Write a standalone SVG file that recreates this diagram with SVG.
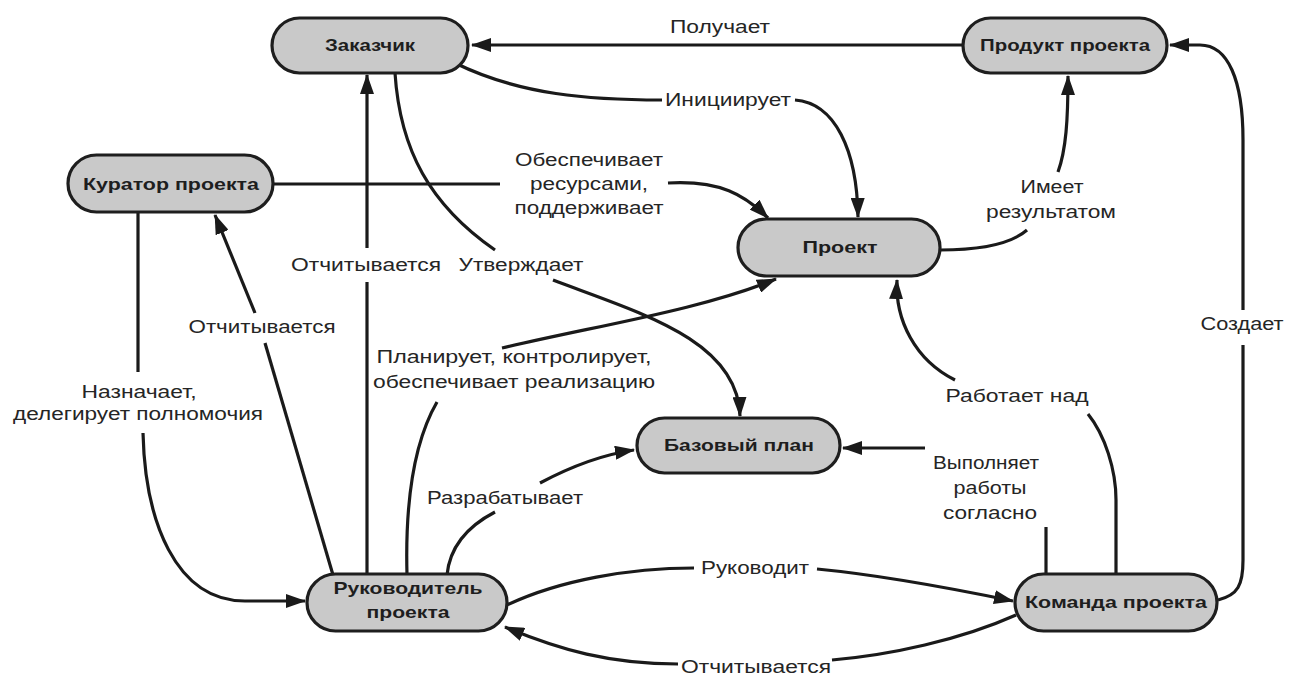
<svg xmlns="http://www.w3.org/2000/svg" width="1289" height="677" viewBox="0 0 1289 677">
<defs>
<marker id="arr" markerUnits="userSpaceOnUse" markerWidth="20" markerHeight="14" refX="19" refY="7" orient="auto">
<path d="M0,0 L20,7 L0,14 z" fill="#1a1a1a"/>
</marker>
</defs>
<style>
.node rect{fill:#c9c9c9;stroke:#1e1e1e;stroke-width:3.2}
.node text{font-family:"Liberation Sans",Arial,sans-serif;font-weight:bold;font-size:16.5px;fill:#1e1e1e;text-anchor:middle}
.edge path{fill:none;stroke:#1a1a1a;stroke-width:3.2}
.lbl{font-family:"Liberation Sans",Arial,sans-serif;font-size:17.5px;fill:#252525;text-anchor:middle}
</style>
<rect width="1289" height="677" fill="#ffffff"/>
<g id="connectors" class="edge">
<path d="M963,45 L472,45" marker-end="url(#arr)"/>
<path d="M455,63 C520,95 590,100 662,100"/>
<path d="M795,100 C835,103 857,150 858,217" marker-end="url(#arr)"/>
<path d="M273,184 L500,184"/>
<path d="M668,183 C720,180 745,195 768,218" marker-end="url(#arr)"/>
<path d="M367,575 L367,282"/>
<path d="M367,248 L367,75" marker-end="url(#arr)"/>
<path d="M395,73 C400,150 430,205 495,250"/>
<path d="M553,280 C640,313 738,340 740,416" marker-end="url(#arr)"/>
<path d="M333,575 L265,343"/>
<path d="M255,313 L215,215" marker-end="url(#arr)"/>
<path d="M138,212 L138,372"/>
<path d="M143,433 C145,520 175,601 245,601 L305,601" marker-end="url(#arr)"/>
<path d="M407,575 C405,500 415,440 437,402"/>
<path d="M502,348 C600,325 700,310 776,279" marker-end="url(#arr)"/>
<path d="M447,575 C450,545 470,525 495,512"/>
<path d="M540,483 C570,467 600,455 634,450" marker-end="url(#arr)"/>
<path d="M1046,573 L1046,527"/>
<path d="M925,448 L843,448" marker-end="url(#arr)"/>
<path d="M1116,573 L1116,500 C1116,470 1105,435 1088,414"/>
<path d="M955,380 C915,360 895,320 897,280" marker-end="url(#arr)"/>
<path d="M940,250 C975,250 1010,245 1027,230"/>
<path d="M1058,172 C1066,150 1068,120 1068,76" marker-end="url(#arr)"/>
<path d="M1218,600 C1238,595 1243,585 1243,560 L1243,345"/>
<path d="M1243,310 L1243,140 C1243,80 1228,45 1200,45 L1170,45" marker-end="url(#arr)"/>
<path d="M507,605 C560,580 630,568 694,568"/>
<path d="M817,569 C880,575 950,588 1013,601" marker-end="url(#arr)"/>
<path d="M1016,615 C960,640 890,655 832,660"/>
<path d="M678,664 C610,664 560,650 505,627" marker-end="url(#arr)"/>
</g>
<g id="labels">
<text class="lbl" x="720" y="33" textLength="100" lengthAdjust="spacingAndGlyphs">Получает</text>
<text class="lbl" x="728" y="106" textLength="126" lengthAdjust="spacingAndGlyphs">Инициирует</text>
<text class="lbl" x="589" y="166" textLength="148" lengthAdjust="spacingAndGlyphs">Обеспечивает</text>
<text class="lbl" x="589" y="190" textLength="118" lengthAdjust="spacingAndGlyphs">ресурсами,</text>
<text class="lbl" x="589" y="214" textLength="149" lengthAdjust="spacingAndGlyphs">поддерживает</text>
<text class="lbl" x="366" y="271" textLength="150" lengthAdjust="spacingAndGlyphs">Отчитывается</text>
<text class="lbl" x="521" y="271" textLength="125" lengthAdjust="spacingAndGlyphs">Утверждает</text>
<text class="lbl" x="262" y="333" textLength="147" lengthAdjust="spacingAndGlyphs">Отчитывается</text>
<text class="lbl" x="139" y="398" textLength="115" lengthAdjust="spacingAndGlyphs">Назначает,</text>
<text class="lbl" x="138" y="420" textLength="250" lengthAdjust="spacingAndGlyphs">делегирует полномочия</text>
<text class="lbl" x="514" y="363" textLength="275" lengthAdjust="spacingAndGlyphs">Планирует, контролирует,</text>
<text class="lbl" x="514" y="388" textLength="282" lengthAdjust="spacingAndGlyphs">обеспечивает реализацию</text>
<text class="lbl" x="505" y="504" textLength="156" lengthAdjust="spacingAndGlyphs">Разрабатывает</text>
<text class="lbl" x="986" y="469" textLength="106" lengthAdjust="spacingAndGlyphs">Выполняет</text>
<text class="lbl" x="990" y="494" textLength="73" lengthAdjust="spacingAndGlyphs">работы</text>
<text class="lbl" x="990" y="519" textLength="94" lengthAdjust="spacingAndGlyphs">согласно</text>
<text class="lbl" x="1017" y="402" textLength="143" lengthAdjust="spacingAndGlyphs">Работает над</text>
<text class="lbl" x="1052" y="193" textLength="63" lengthAdjust="spacingAndGlyphs">Имеет</text>
<text class="lbl" x="1051" y="218" textLength="130" lengthAdjust="spacingAndGlyphs">результатом</text>
<text class="lbl" x="1242" y="330" textLength="83" lengthAdjust="spacingAndGlyphs">Создает</text>
<text class="lbl" x="755" y="574" textLength="108" lengthAdjust="spacingAndGlyphs">Руководит</text>
<text class="lbl" x="756" y="673" textLength="150" lengthAdjust="spacingAndGlyphs">Отчитывается</text>
</g>
<g id="zakazchik" class="node">
<rect x="272" y="18" width="196" height="55" rx="27.5"/>
<text x="370" y="51" textLength="90" lengthAdjust="spacingAndGlyphs">Заказчик</text>
</g>
<g id="produkt" class="node">
<rect x="963" y="18" width="204" height="55" rx="27.5"/>
<text x="1065" y="51" textLength="170" lengthAdjust="spacingAndGlyphs">Продукт проекта</text>
</g>
<g id="kurator" class="node">
<rect x="68" y="155" width="205" height="57" rx="28.5"/>
<text x="171" y="190" textLength="176" lengthAdjust="spacingAndGlyphs">Куратор проекта</text>
</g>
<g id="proekt" class="node">
<rect x="738" y="219" width="202" height="57" rx="28.5"/>
<text x="840" y="253" textLength="75" lengthAdjust="spacingAndGlyphs">Проект</text>
</g>
<g id="bazovy-plan" class="node">
<rect x="637" y="418" width="203" height="55" rx="27.5"/>
<text x="739" y="451" textLength="150" lengthAdjust="spacingAndGlyphs">Базовый план</text>
</g>
<g id="rukovoditel" class="node">
<rect x="307" y="574" width="200" height="57" rx="28.5"/>
<text x="408" y="594" textLength="149" lengthAdjust="spacingAndGlyphs">Руководитель</text>
<text x="408" y="618" textLength="83" lengthAdjust="spacingAndGlyphs">проекта</text>
</g>
<g id="komanda" class="node">
<rect x="1015" y="574" width="202" height="57" rx="28.5"/>
<text x="1116" y="608" textLength="182" lengthAdjust="spacingAndGlyphs">Команда проекта</text>
</g>
</svg>
